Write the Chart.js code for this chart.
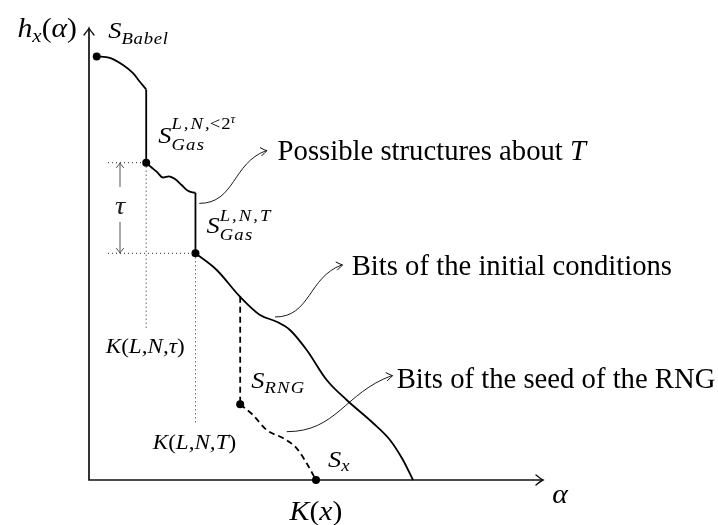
<!DOCTYPE html>
<html>
<head>
<meta charset="utf-8">
<script src="https://cdn.jsdelivr.net/npm/chart.js@4.4.1/dist/chart.umd.min.js"></script>
<style>
  html, body { margin: 0; padding: 0; background: #ffffff; }
  canvas { display: block; }
</style>
</head>
<body>
<canvas id="chart" width="718" height="525"></canvas>
<script>
// Structure function h_x(alpha): description length (alpha) vs. log-size of the model set.
// alpha runs along x, h_x(alpha) up the y axis, both in arbitrary units 0..10.

// S_Babel down to the first plateau
const babelA = [0.17, 0.46, 0.75, 0.97, 1.12, 1.26];
const babelH = [9.37, 9.34, 9.18, 9.00, 8.81, 8.64];
const babelDropA = [1.26, 1.26];
const babelDropH = [8.64, 7.02];

// S_Gas^{L,N,<2^tau} to S_Gas^{L,N,T}: possible structures about T
const structA = [1.26, 1.366, 1.498, 1.63, 1.762, 1.894, 2.04, 2.17, 2.28, 2.345];
const structH = [7.02, 6.925, 6.814, 6.692, 6.719, 6.659, 6.527, 6.405, 6.361, 6.356];
const structDropA = [2.345, 2.345];
const structDropH = [6.356, 5.015];

// S_Gas^{L,N,T} down to alpha axis: bits of the initial conditions
const initA = [2.345, 2.813, 3.326, 3.767, 4.134, 4.427, 4.795, 5.236, 5.676, 6.256, 6.63, 6.916, 7.137];
const initH = [5.015, 4.646, 4.056, 3.650, 3.502, 3.319, 2.876, 2.212, 1.770, 1.261, 0.885, 0.442, 0];

// Branch through the RNG seed (dashed)
const rngDropA = [3.33, 3.33];
const rngDropH = [4.056, 1.675];
const rngA = [3.33, 3.612, 3.914, 4.28, 4.575, 4.795, 5.0];
const rngH = [1.675, 1.438, 1.106, 0.923, 0.701, 0.369, 0];

// Marked models: S_Babel, S_Gas^{<2^tau}, S_Gas^T, S_RNG, S_x
const modelNames = ['Babel', 'GasTau', 'GasT', 'RNG', 'x'];
const modelA = [0.17, 1.26, 2.345, 3.33, 5.0];
const modelH = [9.37, 7.02, 5.015, 1.675, 0];

// Dotted guides to K(L,N,tau) and K(L,N,T)
const guideLeftA = 0.418;
const guideTauEndH = 3.34;
const guideTEndH = 1.26;

// Annotation arrows: start point, arrow tip, text baseline anchor
const noteText = ['Possible structures about ', 'Bits of the initial conditions', 'Bits of the seed of the RNG'];
const noteItalic = ['T', '', ''];
const noteFromA = [2.43, 4.097, 4.355];
const noteFromH = [6.12, 3.606, 1.069];
const noteToA = [3.899, 5.566, 6.667];
const noteToH = [7.285, 4.757, 2.308];
const noteTextA = [4.154, 5.786, 6.778];
const noteTextH = [7.080, 4.535, 2.029];

const AXIS_MAX = 10;

function pts(a, h) { return a.map((v, i) => ({ x: v, y: h[i] })); }

function path(a, h, opts) {
  return Object.assign({
    data: pts(a, h),
    showLine: true,
    borderColor: '#000',
    borderWidth: 1.8,
    pointRadius: 0,
    tension: 0,
    fill: false,
    clip: false
  }, opts || {});
}

const guideStyle = { borderWidth: 1, borderDash: [1, 3], borderColor: '#222' };

const datasets = [
  path(babelA, babelH, { cubicInterpolationMode: 'monotone' }),
  path(babelDropA, babelDropH),
  path(structA, structH, { cubicInterpolationMode: 'monotone' }),
  path(structDropA, structDropH),
  path(initA, initH, { cubicInterpolationMode: 'monotone' }),
  path(rngDropA, rngDropH, { borderDash: [6, 4] }),
  path(rngA, rngH, { cubicInterpolationMode: 'monotone', borderDash: [6, 4] }),
  path([guideLeftA, modelA[1]], [modelH[1], modelH[1]], guideStyle),
  path([guideLeftA, modelA[2]], [modelH[2], modelH[2]], guideStyle),
  path([modelA[1], modelA[1]], [modelH[1], guideTauEndH], guideStyle),
  path([modelA[2], modelA[2]], [modelH[2], guideTEndH], guideStyle),
  {
    data: pts(modelA, modelH),
    showLine: false,
    pointRadius: 4,
    pointBackgroundColor: '#000',
    pointBorderWidth: 0,
    clip: false
  }
];

const SERIF = '"Liberation Serif", "Times New Roman", serif';

// TikZ-like open arrow tip
function arrowTip(ctx, x, y, ang, len, half, lw, color) {
  ctx.save();
  ctx.translate(x, y);
  ctx.rotate(ang);
  ctx.beginPath();
  ctx.moveTo(-len, -half);
  ctx.quadraticCurveTo(-len * 0.3, -half * 0.2, 0, 0);
  ctx.quadraticCurveTo(-len * 0.3, half * 0.2, -len, half);
  ctx.lineWidth = lw;
  ctx.strokeStyle = color;
  ctx.lineCap = 'round';
  ctx.stroke();
  ctx.restore();
}

// Math type is set a little wider than the text face (sx), with optional tracking (ls)
function pieceFont(p) { return (p.it ? 'italic ' : '') + p.s + 'px ' + SERIF; }
function pieceWidth(ctx, p, sx) {
  ctx.font = pieceFont(p);
  const ls = p.ls || 0;
  if (!ls) return ctx.measureText(p.t).width * sx;
  let w = 0;
  for (const ch of p.t) w += ctx.measureText(ch).width * sx + ls;
  return w - ls;
}
function drawPiece(ctx, p, x, y, sx) {
  ctx.font = pieceFont(p);
  ctx.fillStyle = p.c || '#000';
  const ls = p.ls || 0;
  const chunks = ls ? Array.from(p.t) : [p.t];
  let cx = x;
  for (const ch of chunks) {
    ctx.save();
    ctx.translate(cx, y);
    ctx.scale(sx, 1);
    ctx.fillText(ch, 0, 0);
    ctx.restore();
    cx += ctx.measureText(ch).width * sx + ls;
  }
}

// Draw a run of text pieces with sub/superscript shifts; returns total width
function mathRun(ctx, x, y, parts, align, sx) {
  sx = sx || 1;
  let w = 0, mark = 0, maxW = 0;
  const pos = [];
  for (const p of parts) {
    if (p.mark) mark = w;
    if (p.fromMark) w = mark;
    pos.push({ p, dx: w });
    w += pieceWidth(ctx, p, sx);
    maxW = Math.max(maxW, w);
  }
  let x0 = x;
  if (align === 'center') x0 = x - maxW / 2;
  if (align === 'right') x0 = x - maxW;
  ctx.textBaseline = 'alphabetic';
  ctx.textAlign = 'left';
  for (const { p, dx } of pos) drawPiece(ctx, p, x0 + dx, y + (p.dy || 0), sx);
  return maxW;
}

const MS = 24, SS = 17, SSS = 12, MX = 1.1, LS = 1.2;

const decorations = {
  id: 'decorations',
  beforeDatasetsDraw(chart) {
    const ctx = chart.ctx;
    const xs = chart.scales.x, ys = chart.scales.y;
    const ox = xs.getPixelForValue(0), oy = ys.getPixelForValue(0);
    const xEnd = xs.getPixelForValue(AXIS_MAX), yEnd = ys.getPixelForValue(AXIS_MAX);
    ctx.save();
    ctx.strokeStyle = '#111';
    ctx.lineWidth = 1.7;
    ctx.beginPath();
    ctx.moveTo(ox, yEnd + 1);
    ctx.lineTo(ox, oy);
    ctx.lineTo(xEnd - 1, oy);
    ctx.stroke();
    ctx.restore();
    arrowTip(ctx, xEnd, oy, 0, 7, 5, 1.4, '#111');
    arrowTip(ctx, ox, yEnd, -Math.PI / 2, 7, 5, 1.4, '#111');
  },
  afterDatasetsDraw(chart) {
    const ctx = chart.ctx;
    const xs = chart.scales.x, ys = chart.scales.y;
    const px = a => xs.getPixelForValue(a);
    const py = h => ys.getPixelForValue(h);
    const ox = px(0), oy = py(0);
    const yTop = py(AXIS_MAX), xRight = px(AXIS_MAX);

    // axis titles
    mathRun(ctx, ox - 12, yTop + 9, [
      { t: 'h', s: 27, it: true },
      { t: 'x', s: 19, it: true, dy: 5 },
      { t: '(', s: 27 },
      { t: 'α', s: 27, it: true },
      { t: ')', s: 27 }
    ], 'right', MX);
    mathRun(ctx, xRight + 17, oy + 23, [{ t: 'α', s: 27, it: true }], 'center', MX);

    // model labels
    const mx = modelA.map(px), my = modelH.map(py);
    mathRun(ctx, mx[0] + 11.5, my[0] - 18, [
      { t: 'S', s: MS, it: true }, { t: 'Babel', s: SS, it: true, dy: 6, ls: LS * 0.6 }
    ], 'left', MX);
    mathRun(ctx, mx[1] + 12, my[1] - 19.5, [
      { t: 'S', s: MS, it: true },
      { t: 'L,N,', s: SS, it: true, dy: -14, mark: true, ls: 2 },
      { t: '<2', s: SS, dy: -14, ls: 1 },
      { t: 'τ', s: SSS, it: true, dy: -20 },
      { t: 'Gas', s: SS, it: true, dy: 7, fromMark: true, ls: LS }
    ], 'left', MX);
    mathRun(ctx, mx[2] + 11, my[2] - 20, [
      { t: 'S', s: MS, it: true },
      { t: 'L,N,T', s: SS, it: true, dy: -12, mark: true, ls: 2 },
      { t: 'Gas', s: SS, it: true, dy: 7, fromMark: true, ls: LS }
    ], 'left', MX);
    mathRun(ctx, mx[3] + 11, my[3] - 16, [
      { t: 'S', s: MS, it: true }, { t: 'RNG', s: SS, it: true, dy: 5, ls: LS }
    ], 'left', MX);
    mathRun(ctx, mx[4] + 12, my[4] - 13.5, [
      { t: 'S', s: MS, it: true }, { t: 'x', s: SS, it: true, dy: 4 }
    ], 'left', MX);

    // complexity marks on the guides and the alpha axis
    const K = (arg, s) => [
      { t: 'K', s, it: true }, { t: '(', s }, { t: arg, s, it: true }, { t: ')', s }
    ];
    mathRun(ctx, mx[1] - 1, py(guideTauEndH) + 24, K('L,N,τ', 21), 'center', MX);
    mathRun(ctx, mx[2] - 1, py(guideTEndH) + 26, K('L,N,T', 21), 'center', MX);
    mathRun(ctx, mx[4], oy + 40, K('x', 27), 'center', MX);

    // tau bracket between the two dotted guides
    const tx = px(0.683), t1 = my[1], t2 = my[2];
    const tm = (t1 + t2) / 2;
    ctx.save();
    ctx.strokeStyle = '#555';
    ctx.lineWidth = 1;
    ctx.beginPath();
    ctx.moveTo(tx, t1 + 1); ctx.lineTo(tx, tm - 21);
    ctx.moveTo(tx, tm + 14); ctx.lineTo(tx, t2 - 1);
    ctx.stroke();
    ctx.restore();
    arrowTip(ctx, tx, t1, -Math.PI / 2, 5, 3.5, 1, '#555');
    arrowTip(ctx, tx, t2, Math.PI / 2, 5, 3.5, 1, '#555');
    mathRun(ctx, tx, tm + 6, [{ t: 'τ', s: 26, it: true, c: '#222' }], 'center', MX);

    // annotation arrows and texts
    for (let i = 0; i < noteText.length; i++) {
      const x0 = px(noteFromA[i]), y0 = py(noteFromH[i]);
      const x3 = px(noteToA[i]), y3 = py(noteToH[i]);
      const d = Math.hypot(x3 - x0, y3 - y0);
      const k = 0.42 * d;
      const inAng = 20 * Math.PI / 180;
      ctx.save();
      ctx.strokeStyle = '#000';
      ctx.lineWidth = 0.9;
      ctx.beginPath();
      ctx.moveTo(x0, y0);
      ctx.bezierCurveTo(x0 + k, y0, x3 - k * Math.cos(inAng), y3 + k * Math.sin(inAng), x3, y3);
      ctx.stroke();
      ctx.restore();
      arrowTip(ctx, x3 + 1, y3, -inAng * 0.5, 6, 4, 0.9, '#000');
      const parts = [{ t: noteText[i], s: 28.7 }];
      if (noteItalic[i]) parts.push({ t: noteItalic[i], s: 28.7, it: true });
      mathRun(ctx, px(noteTextA[i]), py(noteTextH[i]), parts, 'left', 1);
    }
  }
};

new Chart(document.getElementById('chart'), {
  type: 'scatter',
  data: { datasets },
  options: {
    responsive: false,
    animation: false,
    events: [],
    layout: { padding: { left: 89, right: 175, top: 28, bottom: 45 } },
    scales: {
      x: { type: 'linear', min: 0, max: AXIS_MAX, display: false },
      y: { type: 'linear', min: 0, max: AXIS_MAX, display: false }
    },
    plugins: { legend: { display: false }, tooltip: { enabled: false } }
  },
  plugins: [decorations]
});
</script>
</body>
</html>
